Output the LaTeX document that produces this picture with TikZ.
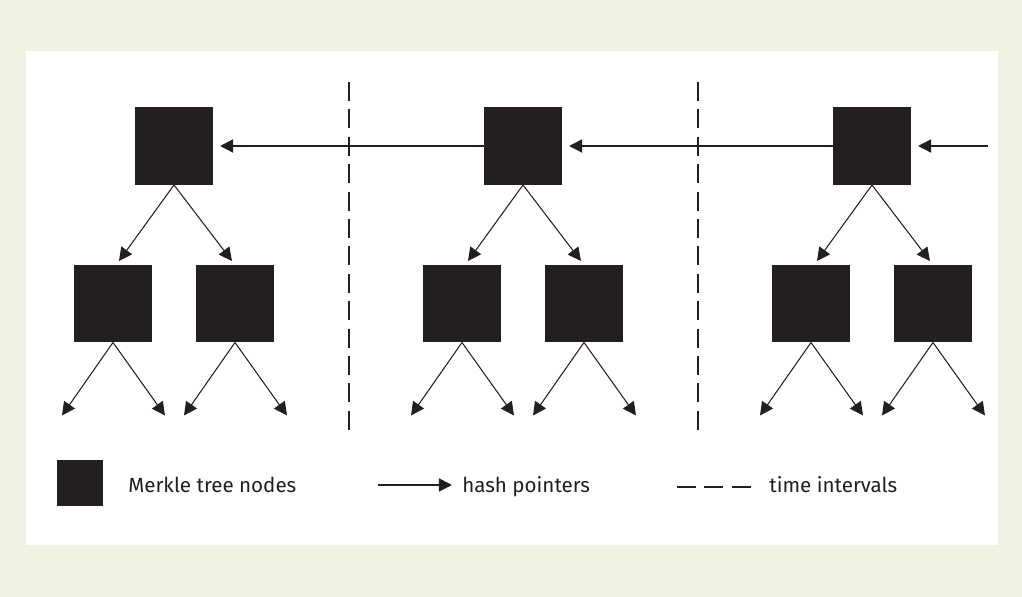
\documentclass[tikz,border=0pt]{standalone}
\usepackage{fontspec}
\setmainfont{Fira Sans}
\usetikzlibrary{arrows.meta}
\definecolor{panelbg}{HTML}{F2F2E3}
\definecolor{ink}{HTML}{231F20}
\tikzset{
  mbox/.style={fill=ink,minimum size=1.56cm,inner sep=0pt,outer sep=0pt},
  hashptr/.style={->,line width=0.9pt,draw=ink},
  treeptr/.style={->,line width=0.6pt,draw=ink},
  interval/.style={line width=0.9pt,draw=ink,dash pattern=on 10.8pt off 4.8pt},
  legtext/.style={anchor=base west,inner sep=0pt,text=ink,font=\fontsize{11.7}{14}\selectfont}
}
\begin{document}
\begin{tikzpicture}[>={Triangle[length=7.5pt,width=7.5pt]},x=0.02cm,y=-0.02cm]
  % background and panel
  \fill[panelbg] (0,0) rectangle (1022,597);
  \fill[white] (26,51) rectangle (998,545);
  % three time intervals, one tree each
  \foreach \t/\cx in {1/174,2/523,3/872}{
    \node[mbox] (r\t) at (\cx,146) {};
    \node[mbox] (a\t) at (\cx-61,303.5) {};
    \node[mbox] (b\t) at (\cx+61,303.5) {};
    \draw[treeptr] (r\t.south) -- (\cx-55,261);
    \draw[treeptr] (r\t.south) -- (\cx+58,261);
    \foreach \k in {a,b}{
      \coordinate (\k\t l) at ([xshift=-1.02cm,yshift=-1.46cm]\k\t.south);
      \coordinate (\k\t r) at ([xshift=1.04cm,yshift=-1.46cm]\k\t.south);
      \draw[treeptr] (\k\t.south) -- (\k\t l);
      \draw[treeptr] (\k\t.south) -- (\k\t r);
    }
  }
  % hash pointers
  \coordinate (next) at (988,146);
  \draw[hashptr] (r2.west) -- ([xshift=4pt]r1.east);
  \draw[hashptr] (r3.west) -- ([xshift=4pt]r2.east);
  \draw[hashptr] (next) -- ([xshift=4pt]r3.east);
  % time intervals
  \foreach \x in {349,698}
    \draw[interval] (\x,82) -- (\x,434);
  % legend
  \node[mbox,minimum size=0.92cm] (legbox) at (80,483) {};
  \node[legtext] (legnode) at (128,493) {Merkle tree nodes};
  \coordinate (arrA) at (378,485);
  \coordinate (arrB) at (452,485);
  \draw[hashptr] (arrA) -- (arrB);
  \node[legtext] (legptr) at (462,493) {hash pointers};
  \coordinate (dashA) at (677,487);
  \coordinate (dashB) at (751,487);
  \draw[interval] (dashA) -- (dashB);
  \node[legtext] (legtime) at (769,493) {time intervals};
\end{tikzpicture}
\end{document}
